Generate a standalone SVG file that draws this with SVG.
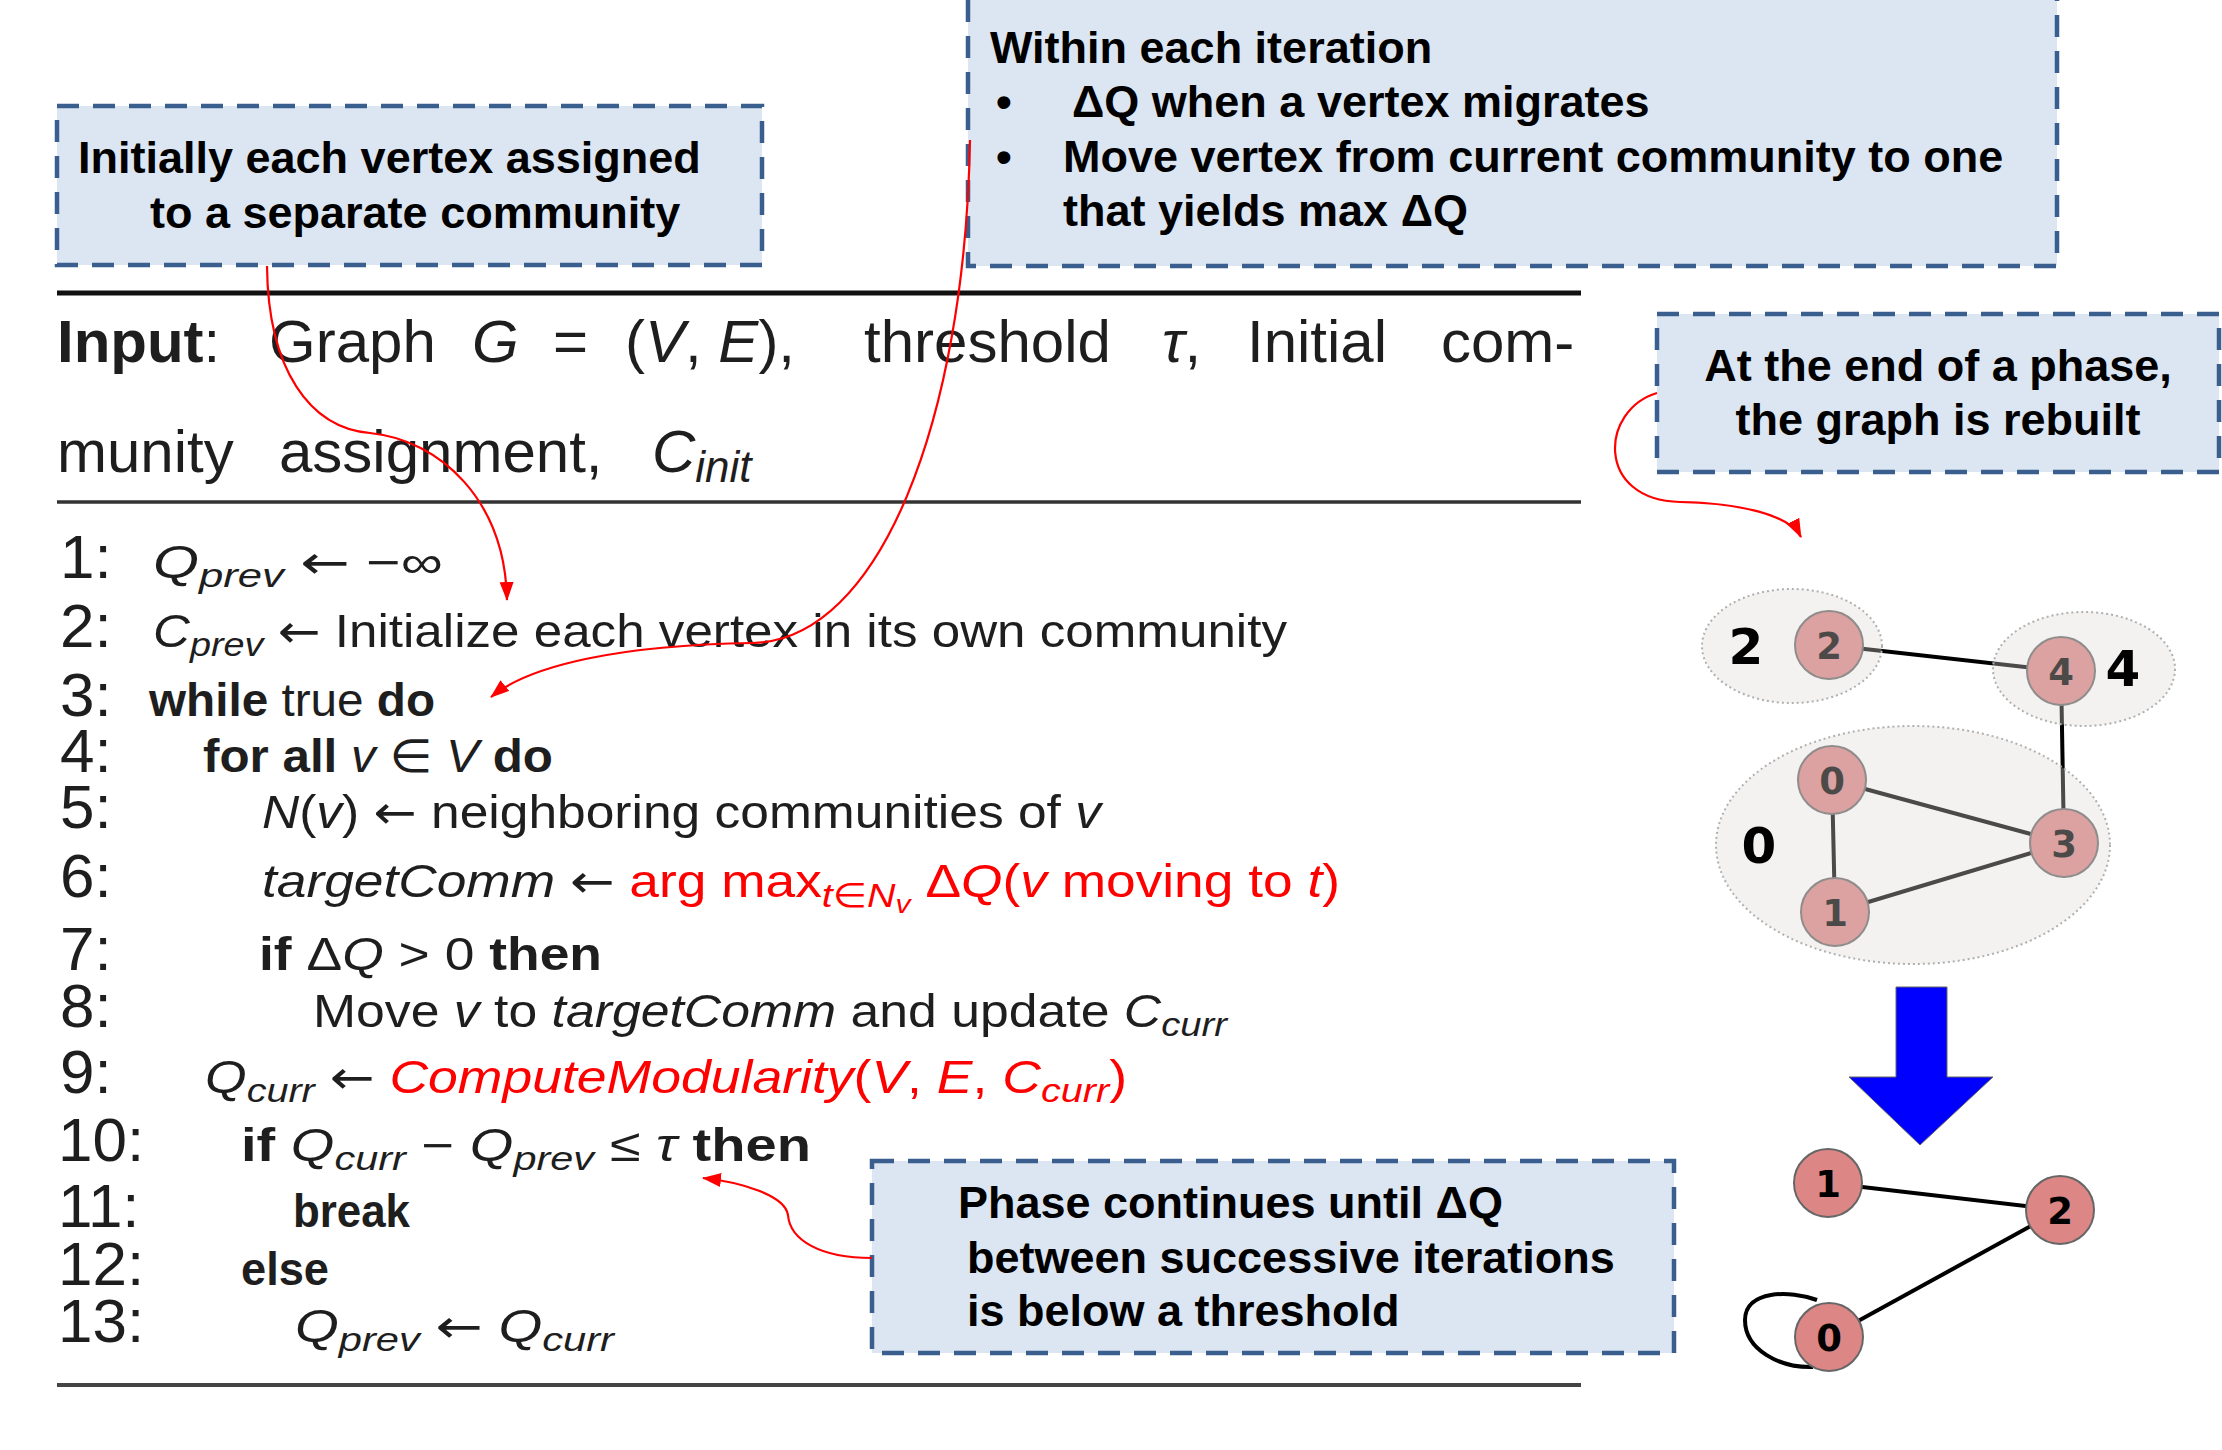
<svg xmlns="http://www.w3.org/2000/svg" width="2222" height="1450" viewBox="0 0 2222 1450">
<defs>
<style>
.box{fill:#dce6f2;stroke:#3a5f8f;stroke-width:4.5;stroke-dasharray:22 14}
.bt{font-family:"Liberation Sans",Arial,sans-serif;font-weight:bold;font-size:45px;fill:#000}
.alg{font-family:"Liberation Sans","DejaVu Sans",sans-serif;font-size:46px;fill:#1e1e1e}
.num{font-family:"Liberation Sans","DejaVu Sans",sans-serif;font-size:62px;fill:#1e1e1e}
.inp{font-family:"Liberation Sans","DejaVu Sans",sans-serif;font-size:60px;fill:#1e1e1e}
.i{font-style:italic}
.b{font-weight:bold}
.ar{font-family:"DejaVu Sans",sans-serif;font-weight:normal;font-style:normal}
.red{fill:#ff0000}
.conn{fill:none;stroke:#ff0000;stroke-width:2.2}
.edge{stroke:#000;stroke-width:4;fill:none}
.nd{fill:#dc8686;stroke:#666;stroke-width:2}
.nt{font-family:"DejaVu Sans",sans-serif;font-weight:bold;font-size:37px;fill:#000;text-anchor:middle}
.comm{fill:rgb(219,216,213);fill-opacity:0.34;stroke:#b0b0b0;stroke-width:2;stroke-dasharray:2 3}
.cl{font-family:"DejaVu Sans",sans-serif;font-weight:bold;font-size:50px;fill:#000;text-anchor:middle}
</style>
<marker id="ah" markerUnits="userSpaceOnUse" markerWidth="22" markerHeight="16" refX="18" refY="7" orient="auto">
<path d="M0,0 L19,7 L0,14 z" fill="#ff0000"/>
</marker>
</defs>
<rect width="2222" height="1450" fill="#fff"/>

<!-- algorithm -->
<g id="algorithm">
<line x1="57" y1="293" x2="1581" y2="293" stroke="#111" stroke-width="5"/>
<line x1="57" y1="502" x2="1581" y2="502" stroke="#333" stroke-width="3.5"/>
<line x1="57" y1="1385" x2="1581" y2="1385" stroke="#444" stroke-width="4"/>
<text class="inp" y="362"><tspan x="57" class="b">Input</tspan><tspan>:</tspan><tspan x="269">Graph</tspan><tspan x="472" class="i">G</tspan><tspan x="553">=</tspan><tspan x="625">(</tspan><tspan class="i">V</tspan><tspan>, </tspan><tspan class="i">E</tspan><tspan>),</tspan><tspan x="864">threshold</tspan><tspan x="1162" class="i">τ</tspan><tspan>,</tspan><tspan x="1247">Initial</tspan><tspan x="1441">com-</tspan></text>
<text class="inp" y="472"><tspan x="57">munity</tspan><tspan x="279">assignment,</tspan><tspan x="652" class="i">C</tspan><tspan class="i" font-size="44" dy="10">init</tspan></text>

<text class="num" x="60" y="578">1:</text>
<text class="num" x="60" y="647">2:</text>
<text class="num" x="60" y="716">3:</text>
<text class="num" x="60" y="772">4:</text>
<text class="num" x="60" y="828">5:</text>
<text class="num" x="60" y="897">6:</text>
<text class="num" x="60" y="970">7:</text>
<text class="num" x="60" y="1027">8:</text>
<text class="num" x="60" y="1093">9:</text>
<text class="num" x="58" y="1161">10:</text>
<text class="num" x="58" y="1227">11:</text>
<text class="num" x="58" y="1285">12:</text>
<text class="num" x="58" y="1342">13:</text>

<text class="alg" x="153" y="578" textLength="290" lengthAdjust="spacingAndGlyphs"><tspan class="i">Q</tspan><tspan class="i" font-size="34" dy="9">prev</tspan><tspan dy="-9"> </tspan><tspan class="ar">←</tspan> −∞</text>
<text class="alg" x="153" y="647" textLength="1134" lengthAdjust="spacingAndGlyphs"><tspan class="i">C</tspan><tspan class="i" font-size="34" dy="9">prev</tspan><tspan dy="-9"> </tspan><tspan class="ar">←</tspan> Initialize each vertex in its own community</text>
<text class="alg" x="149" y="716" textLength="286" lengthAdjust="spacingAndGlyphs"><tspan class="b">while</tspan> true <tspan class="b">do</tspan></text>
<text class="alg" x="203" y="772" textLength="350" lengthAdjust="spacingAndGlyphs"><tspan class="b">for all</tspan> <tspan class="i">v</tspan> ∈ <tspan class="i">V</tspan> <tspan class="b">do</tspan></text>
<text class="alg" x="262" y="828" textLength="839" lengthAdjust="spacingAndGlyphs"><tspan class="i">N</tspan>(<tspan class="i">v</tspan>) <tspan class="ar">←</tspan> neighboring communities of <tspan class="i">v</tspan></text>
<text class="alg" x="262" y="897" textLength="1078" lengthAdjust="spacingAndGlyphs"><tspan class="i">targetComm</tspan> <tspan class="ar">←</tspan> <tspan class="red">arg max</tspan><tspan class="red i" font-size="34" dy="10">t∈N</tspan><tspan class="red i" font-size="26" dy="6">v</tspan><tspan class="red" dy="-16"> Δ</tspan><tspan class="red i">Q</tspan><tspan class="red">(</tspan><tspan class="red i">v</tspan><tspan class="red"> moving to </tspan><tspan class="red i">t</tspan><tspan class="red">)</tspan></text>
<text class="alg" x="259" y="970" textLength="343" lengthAdjust="spacingAndGlyphs"><tspan class="b">if</tspan> Δ<tspan class="i">Q</tspan> &gt; 0 <tspan class="b">then</tspan></text>
<text class="alg" x="313" y="1027" textLength="914" lengthAdjust="spacingAndGlyphs">Move <tspan class="i">v</tspan> to <tspan class="i">targetComm</tspan> and update <tspan class="i">C</tspan><tspan class="i" font-size="34" dy="9">curr</tspan></text>
<text class="alg" x="205" y="1093" textLength="922" lengthAdjust="spacingAndGlyphs"><tspan class="i">Q</tspan><tspan class="i" font-size="34" dy="9">curr</tspan><tspan dy="-9"> </tspan><tspan class="ar">←</tspan> <tspan class="red i">ComputeModularity</tspan><tspan class="red">(</tspan><tspan class="red i">V</tspan><tspan class="red">, </tspan><tspan class="red i">E</tspan><tspan class="red">, </tspan><tspan class="red i">C</tspan><tspan class="red i" font-size="34" dy="9">curr</tspan><tspan class="red" dy="-9">)</tspan></text>
<text class="alg" x="241" y="1161" textLength="570" lengthAdjust="spacingAndGlyphs"><tspan class="b">if</tspan> <tspan class="i">Q</tspan><tspan class="i" font-size="34" dy="9">curr</tspan><tspan dy="-9"> − </tspan><tspan class="i">Q</tspan><tspan class="i" font-size="34" dy="9">prev</tspan><tspan dy="-9"> ≤ </tspan><tspan class="i">τ</tspan> <tspan class="b">then</tspan></text>
<text class="alg b" x="293" y="1227" textLength="117" lengthAdjust="spacingAndGlyphs">break</text>
<text class="alg b" x="241" y="1285" textLength="88" lengthAdjust="spacingAndGlyphs">else</text>
<text class="alg" x="295" y="1342" textLength="319" lengthAdjust="spacingAndGlyphs"><tspan class="i">Q</tspan><tspan class="i" font-size="34" dy="9">prev</tspan><tspan dy="-9"> </tspan><tspan class="ar">←</tspan> <tspan class="i">Q</tspan><tspan class="i" font-size="34" dy="9">curr</tspan></text>
</g>

<!-- callout boxes -->
<g id="box-initial">
<rect class="box" x="57" y="106" width="705" height="159"/>
<text class="bt" x="78" y="173">Initially each vertex assigned</text>
<text class="bt" x="150" y="228">to a separate community</text>
</g>
<g id="box-iteration">
<rect class="box" x="968" y="-12" width="1089" height="278"/>
<text class="bt" x="990" y="63">Within each iteration</text>
<text class="bt" x="996" y="117">•</text>
<text class="bt" x="1072" y="117">ΔQ when a vertex migrates</text>
<text class="bt" x="996" y="172">•</text>
<text class="bt" x="1063" y="172">Move vertex from current community to one</text>
<text class="bt" x="1063" y="226">that yields max ΔQ</text>
</g>
<g id="box-phase-end">
<rect class="box" x="1657" y="314" width="562" height="158"/>
<text class="bt" x="1938" y="381" text-anchor="middle">At the end of a phase,</text>
<text class="bt" x="1938" y="435" text-anchor="middle">the graph is rebuilt</text>
</g>
<g id="box-phase-continue">
<rect class="box" x="872" y="1161" width="802" height="192"/>
<text class="bt" x="958" y="1218">Phase continues until ΔQ</text>
<text class="bt" x="967" y="1273">between successive iterations</text>
<text class="bt" x="967" y="1326">is below a threshold</text>
</g>

<!-- connectors -->
<g id="connectors">
<path class="conn" d="M267,266 C268,370 310,428 370,433 C440,440 505,500 507,600" marker-end="url(#ah)"/>
<path class="conn" d="M970,140 C965,420 880,640 753,643 C620,645 530,665 491,697" marker-end="url(#ah)"/>
<path class="conn" d="M1657,393 C1600,410 1595,500 1680,502 C1740,503 1790,515 1801,537" marker-end="url(#ah)"/>
<path class="conn" d="M872,1258 C820,1258 790,1240 788,1215 C785,1195 740,1182 703,1178" marker-end="url(#ah)" stroke-width="2.6"/>
</g>

<!-- graph before -->
<g id="graph-edges">
<line class="edge" x1="1829" y1="645" x2="2061" y2="671"/>
<line class="edge" x1="2061" y1="671" x2="2064" y2="843"/>
<line class="edge" x1="1832" y1="780" x2="2064" y2="843"/>
<line class="edge" x1="1832" y1="780" x2="1835" y2="912"/>
<line class="edge" x1="1835" y1="912" x2="2064" y2="843"/>
</g>
<g id="node-g1-2"><circle class="nd" cx="1829" cy="645" r="34"/><text class="nt" x="1829" y="659">2</text></g>
<g id="node-g1-4"><circle class="nd" cx="2061" cy="671" r="34"/><text class="nt" x="2061" y="685">4</text></g>
<g id="node-g1-0"><circle class="nd" cx="1832" cy="780" r="34"/><text class="nt" x="1832" y="794">0</text></g>
<g id="node-g1-3"><circle class="nd" cx="2064" cy="843" r="34"/><text class="nt" x="2064" y="857">3</text></g>
<g id="node-g1-1"><circle class="nd" cx="1835" cy="912" r="34"/><text class="nt" x="1835" y="926">1</text></g>
<g id="community-2"><ellipse class="comm" cx="1792" cy="646" rx="90" ry="57"/><text class="cl" x="1746" y="664">2</text></g>
<g id="community-4"><ellipse class="comm" cx="2084" cy="669" rx="91" ry="57"/><text class="cl" x="2123" y="686">4</text></g>
<g id="community-0"><ellipse class="comm" cx="1913" cy="845" rx="197" ry="119"/><text class="cl" x="1759" y="863">0</text></g>

<!-- blue arrow -->
<g id="rebuild-arrow">
<path d="M1896,987 L1947,987 L1947,1077 L1993,1077 L1920,1145 L1849,1077 L1896,1077 z" fill="#0000ff" stroke="#666" stroke-width="1"/>
</g>

<!-- graph after -->
<g id="graph2-edges">
<line class="edge" x1="1828" y1="1183" x2="2060" y2="1210"/>
<line class="edge" x1="2060" y1="1210" x2="1829" y2="1337"/>
<path class="edge" d="M1817,1300 C1790,1290 1745,1290 1745,1320 C1745,1350 1780,1368 1813,1367"/>
</g>
<g id="node-g2-1"><circle class="nd" cx="1828" cy="1183" r="34"/><text class="nt" x="1828" y="1197">1</text></g>
<g id="node-g2-2"><circle class="nd" cx="2060" cy="1210" r="34"/><text class="nt" x="2060" y="1224">2</text></g>
<g id="node-g2-0"><circle class="nd" cx="1829" cy="1337" r="34"/><text class="nt" x="1829" y="1351">0</text></g>
</svg>
